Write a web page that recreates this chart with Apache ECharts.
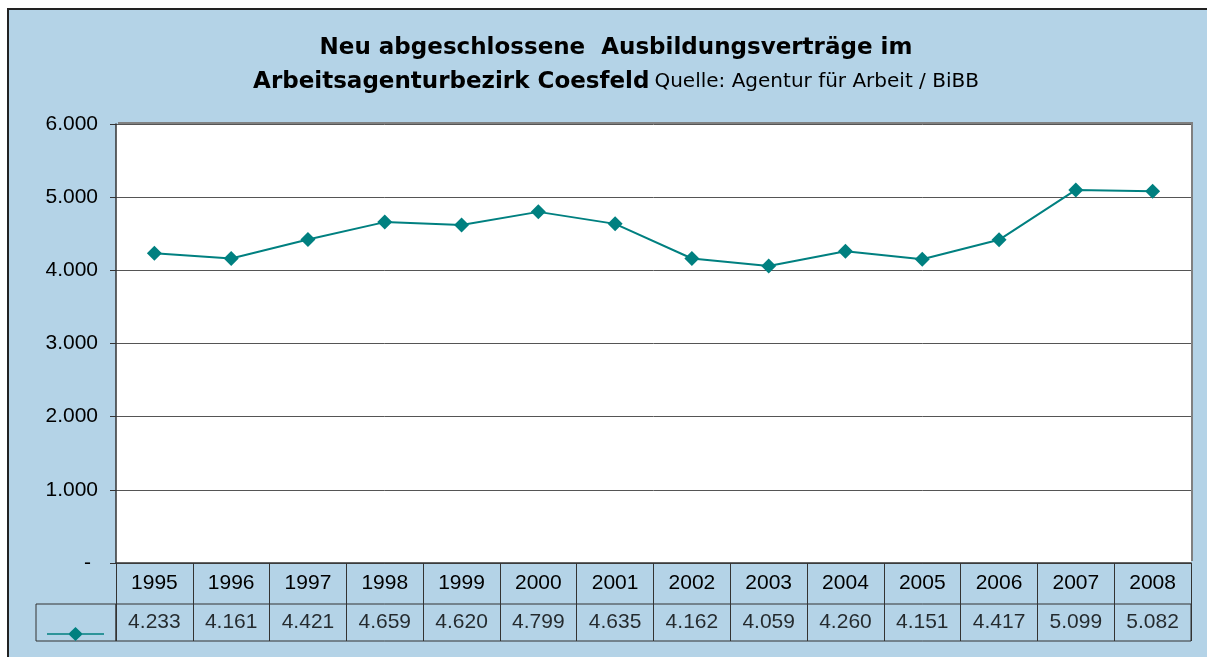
<!DOCTYPE html>
<html>
<head>
<meta charset="utf-8">
<script src="https://cdn.jsdelivr.net/npm/echarts@6/dist/echarts.min.js"></script>
<style>
  body { margin: 0; background: #fff; }
  #frame { position: absolute; left: 7px; top: 8px; width: 1200px; height: 649px;
    background: #b4d3e7; border-left: 2px solid #222; border-top: 2px solid #222; }
  #main { position: absolute; left: 0; top: 0; width: 1207px; height: 657px; }
</style>
</head>
<body>
<div id="frame"></div>
<div id="main"></div>
<script>
var years = ['1995', '1996', '1997', '1998', '1999', '2000', '2001', '2002', '2003', '2004', '2005', '2006', '2007', '2008'];
var vertraege = [4233, 4161, 4421, 4659, 4620, 4799, 4635, 4162, 4059, 4260, 4151, 4417, 5099, 5082];
var yTicks = [0, 1000, 2000, 3000, 4000, 5000, 6000];

function fmt(v) {
  return (v / 1000).toFixed(3);
}

var dom = document.getElementById("main");
var myChart = echarts.init(dom);
var option = {
  backgroundColor: 'transparent',
  textStyle: { fontFamily: 'Liberation Sans' },
  title: {
    left: 611,
    top: 26,
    textAlign: 'center',
    text: '{b|Neu abgeschlossene  Ausbildungsverträge im}\n{b|Arbeitsagenturbezirk Coesfeld} {n|Quelle: Agentur für Arbeit / BiBB}',
    textStyle: {
      rich: {
        b: { fontSize: 23, fontWeight: 'bold', color: '#000', lineHeight: 34, fontFamily: 'DejaVu Sans' },
        n: { fontSize: 20, fontWeight: 'normal', color: '#000', lineHeight: 34, fontFamily: 'DejaVu Sans' }
      }
    }
  },
  legend: {
    left: 42,
    top: 622,
    itemWidth: 57,
    itemHeight: 14,
    icon: 'path://M0,6.2L22,6.2L28.5,0L35,6.2L57,6.2L57,7.8L35,7.8L28.5,14L22,7.8L0,7.8Z',
    formatter: function () { return ''; },
    data: ['Ausbildungsverträge']
  },
  grid: [{
    left: 116, right: 16, top: 124, bottom: 94,
    show: true,
    backgroundColor: '#fff',
    borderWidth: 0,
    shadowColor: '#808080',
    shadowBlur: 0,
    shadowOffsetX: 2,
    shadowOffsetY: -2
  }, {
    left: 116, right: 16, top: 604, height: 37,
    show: true,
    backgroundColor: 'transparent',
    borderColor: '#333',
    borderWidth: 1
  }],
  xAxis: [{
    type: 'category',
    data: years,
    boundaryGap: true,
    axisLine: { lineStyle: { color: '#333', width: 1.5 } },
    axisTick: { show: true, length: 78, interval: 0, lineStyle: { color: '#333', width: 1 } },
    axisLabel: { interval: 0, margin: 10, fontSize: 21, color: '#000', fontFamily: 'Liberation Sans' }
  }, {
    type: 'category',
    gridIndex: 1,
    data: years,
    show: false
  }],
  yAxis: [{
    type: 'value',
    min: yTicks[0],
    max: yTicks[yTicks.length - 1],
    interval: 1000,
    axisLine: { show: true, lineStyle: { color: '#333', width: 1.5 } },
    axisTick: { show: true, length: 6, lineStyle: { color: '#333' } },
    axisLabel: {
      margin: 18,
      fontSize: 21,
      color: '#000',
      fontFamily: 'Liberation Sans',
      formatter: function (v) { return v === 0 ? '{d|-}' : fmt(v); },
      rich: { d: { fontSize: 21, color: '#000', padding: [0, 7, 0, 0] } }
    },
    splitLine: { show: true, lineStyle: { color: '#555', width: 1 } }
  }, {
    type: 'value',
    gridIndex: 1,
    min: 0,
    max: 1,
    show: false
  }],
  graphic: [{
    type: 'rect',
    shape: { x: 36, y: 604, width: 80, height: 37 },
    style: { fill: 'none', stroke: '#333', lineWidth: 1 }
  }],
  series: [{
    name: 'Ausbildungsverträge',
    type: 'line',
    data: vertraege,
    symbol: 'diamond',
    symbolSize: 15,
    itemStyle: { color: '#008080' },
    lineStyle: { color: '#008080', width: 2 }
  }, {
    name: 'Tabelle',
    type: 'scatter',
    xAxisIndex: 1,
    yAxisIndex: 1,
    symbolSize: 1,
    itemStyle: { color: 'transparent' },
    silent: true,
    data: vertraege.map(function (v, i) { return [i, 0.5, v]; }),
    label: {
      show: true,
      position: 'inside',
      fontSize: 21,
      color: '#000',
      fontFamily: 'Liberation Sans',
      formatter: function (p) { return fmt(p.value[2]); }
    }
  }]
};
myChart.setOption(option, true);
window.addEventListener("resize", () => {
  myChart.resize();
});
</script>
</body>
</html>
